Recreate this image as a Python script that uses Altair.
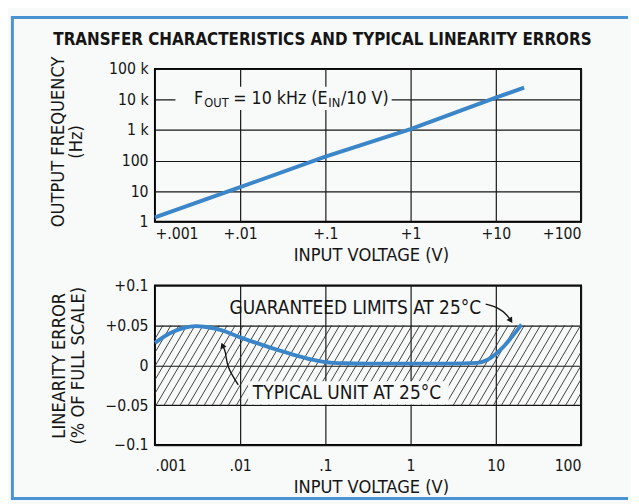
import altair as alt
import pandas as pd
import numpy as np

BG = "#f8f9f9"
BLUE = "#3a86c8"
FRAME = "#4a94d4"
INK = "#151515"
FONT = "DejaVu Sans Condensed"

# ---------------- data ----------------
title_text = "TRANSFER CHARACTERISTICS AND TYPICAL LINEARITY ERRORS"

# top panel: transfer characteristic
vin_top = [0.001, 0.01, 0.1, 1, 10, 21.5]
fout_top = [1.4, 13.5, 135, 1080, 11500, 24500]

# bottom panel: typical linearity error (% of full scale)
vin_err = [0.001, 0.0015, 0.0022, 0.003, 0.004, 0.006, 0.01, 0.02, 0.04, 0.07,
           0.1, 0.16, 0.3, 1, 3, 6, 8, 10, 12, 15, 20]
err_pct = [0.028, 0.040, 0.047, 0.049, 0.048, 0.044, 0.035, 0.024, 0.014, 0.007,
           0.004, 0.0025, 0.002, 0.002, 0.002, 0.003, 0.007, 0.014, 0.022, 0.034, 0.051]

limit_lo, limit_hi = -0.05, 0.05

x_ticks = [0.001, 0.01, 0.1, 1, 10, 100]
x_top_labels = ["+.001", "+.01", "+.1", "+1", "+10", "+100"]
x_bot_labels = [".001", ".01", ".1", "1", "10", "100"]
y_top_ticks = [1, 10, 100, 1000, 10000, 100000]
y_top_labels = ["1", "10", "100", "1 k", "10 k", "100 k"]
y_bot_ticks = [-0.1, -0.05, 0, 0.05, 0.1]
y_bot_labels = ["\u22120.1", "\u22120.05", "0", "+0.05", "+0.1"]

# annotations
fout_pieces = ["F", "OUT", "= 10 kHz (E", "IN", "/10 V)"]
fout_sub = [False, True, False, True, False]
fout_anchor = (0.00288, 10000)
fout_box_x = [0.00174, 0.60]
fout_box_y = [4500, 26300]

guar_text = "GUARANTEED LIMITS AT 25\u00b0C"
guar_pos = (0.0075, 0.0716)
typ_text = "TYPICAL UNIT AT 25\u00b0C"
typ_pos = (0.0141, -0.0346)
typ_box_x = [0.0124, 2.8]
typ_box_y = [-0.049, -0.020]

guar_arrow_x = [7.6, 10.5, 13.4, 15.0]
guar_arrow_y = [0.0765, 0.0716, 0.063, 0.056]
typ_arrow_x = [0.0095, 0.0073, 0.0067, 0.0062]
typ_arrow_y = [-0.0247, -0.0025, 0.016, 0.025]

# ---------------- layout ----------------
W = 435
H_TOP = 156
H_BOT = 163
TITLE_FS = 18.5


def arr(lst):
    return "[" + ",".join("'" + s + "'" for s in lst) + "]"


one = pd.DataFrame({"k": [0]})

xs = alt.Scale(type="log", domain=[0.001, 100], nice=False)
ys_top = alt.Scale(type="log", domain=[1, 100000], nice=False)
ys_bot = alt.Scale(domain=[-0.1, 0.1], nice=False, zero=False)

x_axis_top = alt.Axis(values=x_ticks, labelExpr=arr(x_top_labels) + "[round(log(datum.value)/LN10)+3]",
                      grid=True, labelPadding=4, title="INPUT VOLTAGE (V)", orient="bottom",
                      titleX=W / 2 + 3, titleY=40, titleBaseline="alphabetic", titleAlign="center")
y_axis_top = alt.Axis(values=y_top_ticks, labelExpr=arr(y_top_labels) + "[round(log(datum.value)/LN10)]",
                      grid=True, labelPadding=7, title=["OUTPUT FREQUENCY", "(Hz)"],
                      titleX=-93, titleY=H_TOP / 2 - 4, titleLineHeight=18.5,
                      titleBaseline="alphabetic", titleAlign="center")
x_axis_bot = alt.Axis(values=x_ticks, labelExpr=arr(x_bot_labels) + "[round(log(datum.value)/LN10)+3]",
                      grid=True, labelPadding=13, title="INPUT VOLTAGE (V)", orient="bottom",
                      titleX=W / 2 + 3, titleY=48, titleBaseline="alphabetic", titleAlign="center")
y_axis_bot = alt.Axis(values=y_bot_ticks, labelExpr=arr(y_bot_labels) + "[round(datum.value/0.05)+2]",
                      grid=True, labelPadding=7, title=["LINEARITY ERROR", "(% OF FULL SCALE)"],
                      titleX=-92, titleY=H_BOT / 2, titleLineHeight=19,
                      titleBaseline="alphabetic", titleAlign="center", orient="left")

# ---------- frame + title (pixel decorations) ----------
frame_left = alt.Chart(one).mark_rule(color=FRAME, strokeWidth=3).encode(
    x=alt.value(-145.5), y=alt.value(-54), y2=alt.value(440))
frame_top = alt.Chart(one).mark_rule(color=FRAME, strokeWidth=3).encode(
    y=alt.value(-52.5), x=alt.value(-147), x2=alt.value(483))
frame_bot = alt.Chart(one).mark_rule(color=FRAME, strokeWidth=3).encode(
    y=alt.value(438.5), x=alt.value(-147), x2=alt.value(483))
title_mark = alt.Chart(one).mark_text(font=FONT, fontSize=17.2, fontWeight="bold", color=INK,
                                      align="center", baseline="alphabetic").encode(
    x=alt.value(171), y=alt.value(-24), text=alt.value(title_text))

# ---------- top panel ----------
top_df = pd.DataFrame({"vin": vin_top, "fout": fout_top})
top_line = alt.Chart(top_df).mark_line(color=BLUE, strokeWidth=4).encode(
    x=alt.X("vin:Q", scale=xs, axis=x_axis_top),
    y=alt.Y("fout:Q", scale=ys_top, axis=y_axis_top))

fbox_df = pd.DataFrame({"x1": [fout_box_x[0]], "x2": [fout_box_x[1]],
                        "y1": [fout_box_y[0]], "y2": [fout_box_y[1]]})
fout_box = alt.Chart(fbox_df).mark_rect(fill=BG).encode(
    x=alt.X("x1:Q", scale=xs, axis=x_axis_top), x2="x2:Q",
    y=alt.Y("y1:Q", scale=ys_top, axis=y_axis_top), y2="y2:Q")

anch_df = pd.DataFrame({"x": [fout_anchor[0]], "y": [fout_anchor[1]]})
piece_dx = [0, 10.5, 40, 137, 150]
fout_layers = []
for txt, sub, dx in zip(fout_pieces, fout_sub, piece_dx):
    fout_layers.append(
        alt.Chart(anch_df).mark_text(font=FONT, fontSize=13 if sub else 18, color=INK,
                                     align="left", baseline="middle", dx=dx, dy=4 if sub else 0).encode(
            x=alt.X("x:Q", scale=xs, axis=x_axis_top),
            y=alt.Y("y:Q", scale=ys_top, axis=y_axis_top),
            text=alt.value(txt)))

top = alt.layer(frame_left, frame_top, frame_bot, title_mark, top_line, fout_box,
                *fout_layers).properties(width=W, height=H_TOP)

# ---------- bottom panel ----------
hatch_step = 8.2
hatch_run = 48.0
hx0 = np.arange(-hatch_run, W + hatch_step, hatch_step)
hatch_df = pd.DataFrame({"hx": hx0, "hx2": hx0 + hatch_run,
                         "hy": limit_lo, "hy2": limit_hi})
hatch = alt.Chart(hatch_df).mark_rule(clip=True, strokeWidth=0.9, color="#2a2a2a").encode(
    x=alt.X("hx:Q", scale=alt.Scale(domain=[0, W], nice=False, zero=False), axis=None),
    x2="hx2:Q",
    y=alt.Y("hy:Q", scale=ys_bot, axis=y_axis_bot), y2="hy2:Q")

err_df = pd.DataFrame({"vin": vin_err, "err": err_pct})
err_line = alt.Chart(err_df).mark_line(color=BLUE, strokeWidth=4, interpolate="monotone").encode(
    x=alt.X("vin:Q", scale=xs, axis=x_axis_bot),
    y=alt.Y("err:Q", scale=ys_bot, axis=y_axis_bot))

tbox_df = pd.DataFrame({"x1": [typ_box_x[0]], "x2": [typ_box_x[1]],
                        "y1": [typ_box_y[0]], "y2": [typ_box_y[1]]})
typ_box = alt.Chart(tbox_df).mark_rect(fill=BG).encode(
    x=alt.X("x1:Q", scale=xs, axis=x_axis_bot), x2="x2:Q",
    y=alt.Y("y1:Q", scale=ys_bot, axis=y_axis_bot), y2="y2:Q")

lab_df = pd.DataFrame({"x": [guar_pos[0], typ_pos[0]], "y": [guar_pos[1], typ_pos[1]],
                       "t": [guar_text, typ_text]})
labels = alt.Chart(lab_df).mark_text(font=FONT, fontSize=19.3, color=INK, align="left",
                                     baseline="middle").encode(
    x=alt.X("x:Q", scale=xs, axis=x_axis_bot),
    y=alt.Y("y:Q", scale=ys_bot, axis=y_axis_bot), text="t:N")

arrows = []
for ax_, ay_, ang in [(guar_arrow_x, guar_arrow_y, 147), (typ_arrow_x, typ_arrow_y, 339)]:
    adf = pd.DataFrame({"x": ax_, "y": ay_, "o": list(range(len(ax_)))})
    arrows.append(alt.Chart(adf).mark_line(color=INK, strokeWidth=1.4, interpolate="natural").encode(
        x=alt.X("x:Q", scale=xs, axis=x_axis_bot),
        y=alt.Y("y:Q", scale=ys_bot, axis=y_axis_bot), order="o:Q"))
    hdf = adf.tail(1)
    arrows.append(alt.Chart(hdf).mark_point(shape="triangle-up", filled=True, size=45, color=INK,
                                            opacity=1, angle=ang).encode(
        x=alt.X("x:Q", scale=xs, axis=x_axis_bot),
        y=alt.Y("y:Q", scale=ys_bot, axis=y_axis_bot)))

inner = alt.layer(err_line, typ_box, labels, *arrows)
bottom = alt.layer(hatch, inner).resolve_scale(x="independent").properties(width=W, height=H_BOT)

chart = alt.vconcat(top, bottom, spacing=65, bounds="flush", padding=0).configure(
    background=BG, font=FONT
).configure_view(
    stroke="black", strokeWidth=2, fill=BG
).configure_axis(
    labelFont=FONT, titleFont=FONT, labelFontSize=16, titleFontSize=TITLE_FS,
    labelColor=INK, titleColor=INK, titleFontWeight="normal",
    gridColor=INK, gridWidth=1.2, gridOpacity=1, domain=False, ticks=False
)

chart.save("out.html", embed_options={"renderer": "svg", "actions": False})
